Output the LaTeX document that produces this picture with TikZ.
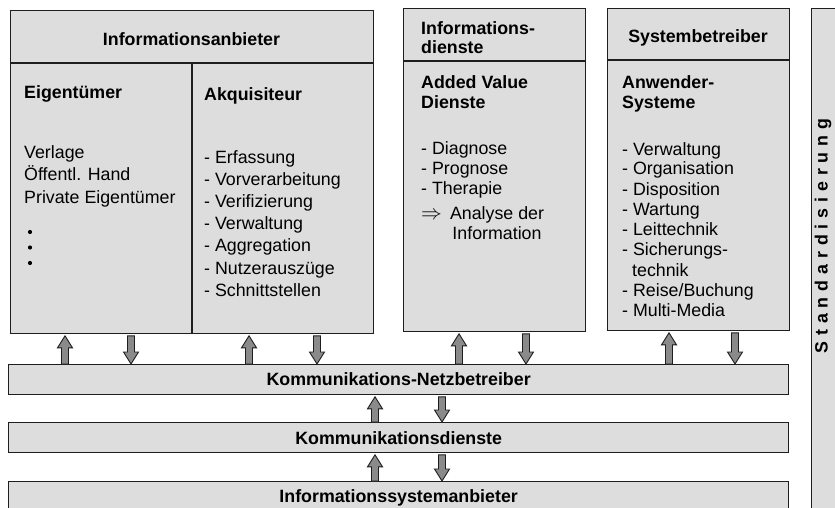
\documentclass[tikz,border=0pt]{standalone}
\usepackage{fontspec}
\setmainfont{Liberation Sans}
\usetikzlibrary{calc}
\definecolor{boxfill}{HTML}{DDDDDD}
\definecolor{arrfill}{HTML}{8A8A8A}
\definecolor{linec}{HTML}{1E1E1E}
\newcommand\stdgap{\hspace{5.9pt}}
\newcommand\UpArr[3]{%
  \coordinate (ua-t) at ($(#1,0 |- #3.south)+(0,1.5)$);
  \coordinate (ua-b) at (#1,0 |- #2.north);
  \filldraw[blk] (ua-t) -- ($(ua-t)+(7.5,12)$) -- ($(ua-t)+(3.5,12)$) -- ($(ua-b)+(3.5,0)$)
    -- ($(ua-b)+(-3.5,0)$) -- ($(ua-t)+(-3.5,12)$) -- ($(ua-t)+(-7.5,12)$) -- cycle;}
\newcommand\DnArr[3]{%
  \coordinate (da-t) at ($(#1,0 |- #2.south)+(0,1.5)$);
  \coordinate (da-b) at (#1,0 |- #3.north);
  \filldraw[blk] (da-b) -- ($(da-b)+(7.5,-12)$) -- ($(da-b)+(3.5,-12)$) -- ($(da-t)+(3.5,0)$)
    -- ($(da-t)+(-3.5,0)$) -- ($(da-b)+(-3.5,-12)$) -- ($(da-b)+(-7.5,-12)$) -- cycle;}
\begin{document}
\begin{tikzpicture}[x=1pt,y=-1pt]
\tikzset{
  box/.style={draw=linec, fill=boxfill, line width=1.3pt, anchor=north west, inner sep=0pt},
  sep/.style={draw=linec, line width=1.3pt},
  txt/.style={inner sep=0pt, anchor=base west, font=\fontsize{17.8}{21}\selectfont},
  btxt/.style={inner sep=0pt, anchor=base west, font=\fontsize{17.8}{21}\selectfont\bfseries},
  ctxt/.style={inner sep=0pt, anchor=base, font=\fontsize{17.8}{21}\selectfont\bfseries},
  mtxt/.style={inner sep=0pt, anchor=base, font=\fontsize{17.8}{21}\selectfont},
  blk/.style={draw=linec, fill=arrfill, line width=0.9pt, line join=miter},
}
\clip (0,0) rectangle (835,508);
\fill[white] (0,0) rectangle (835,508);

% top boxes
\node[box, minimum width=363pt, minimum height=323pt] (iab) at (10,10) {};
\node[box, minimum width=182pt, minimum height=323pt] (ids) at (403,8) {};
\node[box, minimum width=182pt, minimum height=322pt] (sys) at (607,8) {};
\node[box, minimum width=40pt, minimum height=520pt] (std) at (811,8) {};

% bars
\node[box, minimum width=780pt, minimum height=30pt] (knb) at (8,364) {};
\node[box, minimum width=780pt, minimum height=30pt] (kd) at (8,422) {};
\node[box, minimum width=780pt, minimum height=40pt] (isa) at (8,481) {};

% header separators
\draw[sep] (iab.west |- 0,63) -- (iab.east |- 0,63);
\draw[sep] (192,63) -- (192,0 |- iab.south);
\draw[sep] (ids.west |- 0,61) -- (ids.east |- 0,61);
\draw[sep] (sys.west |- 0,60) -- (sys.east |- 0,60);

% Informationsanbieter
\node[ctxt] (h1) at (191.5,46) {Informationsanbieter};
\node[btxt] (eig) at (24,99) {Eigentümer};
\node[btxt] (akq) at (204,101) {Akquisiteur};
\foreach \t [count=\i from 0] in {Verlage,Öffentl. Hand,Private Eigentümer}
  \node[txt] (own\i) at (24,158+22.5*\i) {\t};
\foreach \yy [count=\i] in {232,247.5,263}
  \fill[black] (30,\yy) circle (2.1) coordinate (dot\i);
\foreach \t [count=\i from 0] in {- Erfassung,- Vorverarbeitung,- Verifizierung,- Verwaltung,- Aggregation,- Nutzerauszüge,- Schnittstellen}
  \node[txt] (akl\i) at (204,163+22.2*\i) {\t};

% Informationsdienste
\node[btxt] (h2a) at (421,35) {Informations-};
\node[btxt] (h2b) at (421,54) {dienste};
\node[btxt] (avd1) at (421,89) {Added Value};
\node[btxt] (avd2) at (421,109) {Dienste};
\foreach \t [count=\i from 0] in {- Diagnose,- Prognose,- Therapie}
  \node[txt] (idl\i) at (421,154+20*\i) {\t};
\node[inner sep=0pt, anchor=base west, font=\fontsize{21}{21}\selectfont] (impl) at (421,219) {$\Rightarrow$};
\node[mtxt] (ana1) at (497,219) {Analyse der};
\node[mtxt] (ana2) at (497,239) {Information};

% Systembetreiber
\node[ctxt] (h3) at (698,43) {Systembetreiber};
\node[btxt] (anw1) at (622,89) {Anwender-};
\node[btxt] (anw2) at (622,109) {Systeme};
\foreach \t [count=\i from 0] in {- Verwaltung,- Organisation,- Disposition,- Wartung,- Leittechnik,- Sicherungs-}
  \node[txt] (syl\i) at (622,155+20*\i) {\t};
\node[txt] (syl6) at (632,276) {technik};
\node[txt] (syl7) at (622,296) {- Reise/Buchung};
\node[txt] (syl8) at (622,316) {- Multi-Media};

% bars text
\node[ctxt] (t1) at (knb.center |- 0,385) {Kommunikations-Netzbetreiber};
\node[ctxt] (t2) at (kd.center |- 0,444) {Kommunikationsdienste};
\node[ctxt] (t3) at (isa.center |- 0,502) {Informationssystemanbieter};

% Standardisierung
\node[inner sep=0pt, anchor=base, rotate=90, font=\fontsize{17.8}{21}\selectfont\bfseries] (stdt) at (827.5,236)
  {S\stdgap t\stdgap a\stdgap n\stdgap d\stdgap a\stdgap r\stdgap d\stdgap i\stdgap s\stdgap i\stdgap e\stdgap r\stdgap u\stdgap n\stdgap g};

% arrows
\UpArr{65}{knb}{iab}
\DnArr{131}{iab}{knb}
\UpArr{249}{knb}{iab}
\DnArr{317}{iab}{knb}
\UpArr{459}{knb}{ids}
\DnArr{526}{ids}{knb}
\UpArr{669}{knb}{sys}
\DnArr{735}{sys}{knb}
\UpArr{375}{kd}{knb}
\DnArr{442}{knb}{kd}
\UpArr{375}{isa}{kd}
\DnArr{442}{kd}{isa}
\end{tikzpicture}
\end{document}
